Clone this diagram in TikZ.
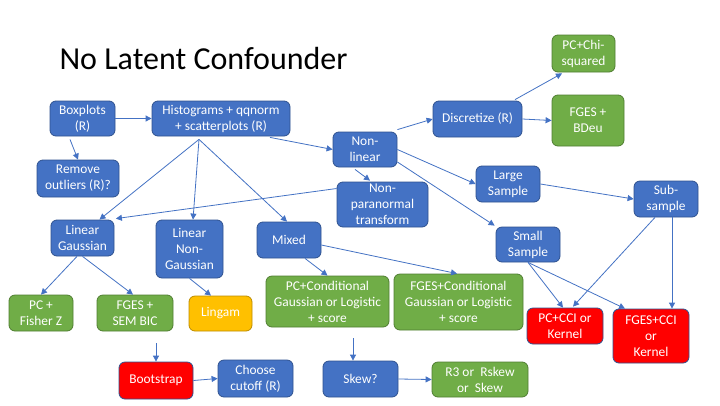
\documentclass[tikz,border=0pt]{standalone}
\usepackage{fontspec}
\setmainfont{Carlito}
\usetikzlibrary{arrows.meta,calc}
\definecolor{boxblue}{RGB}{68,114,196}
\definecolor{edgeblue}{RGB}{47,82,143}
\definecolor{boxgreen}{RGB}{112,173,71}
\definecolor{edgegreen}{RGB}{80,126,50}
\definecolor{boxyellow}{RGB}{255,192,0}
\definecolor{edgeyellow}{RGB}{188,140,0}
\definecolor{boxred}{RGB}{255,0,0}

\begin{document}
\begin{tikzpicture}[x=1pt, y=-1pt,
  bluebox/.style={draw=edgeblue, fill=boxblue, text=white, rounded corners=6pt,
    line width=0.8pt, align=center, inner sep=2pt,
    font=\fontsize{13.4}{16}\selectfont},
  greenbox/.style={bluebox, draw=edgegreen, fill=boxgreen},
  yellowbox/.style={bluebox, draw=edgeyellow, fill=boxyellow},
  redbox/.style={bluebox, fill=boxred},
  arrow/.style={-{Triangle[length=6pt,width=6pt]}, line width=0.8pt, draw=boxblue}
]
\useasboundingbox[fill=white] (0,0) rectangle (720,405);

\node[anchor=base west, font=\fontsize{32}{36}\selectfont] (title) at (56,69) {No Latent Confounder};

% first row
\node[bluebox, minimum width=65, minimum height=35] (box) at (82.5,118.5) {Boxplots\\(R)};
\node[bluebox, minimum width=138, minimum height=35] (hist) at (221,118.5) {Histograms + qqnorm\\+ scatterplots (R)};
\node[bluebox, minimum width=82, minimum height=37] (outl) at (78,178.5) {Remove\\outliers (R)?};
\draw[arrow] (box.east) -- (hist.west);
\draw[arrow] ([xshift=-12.5pt,yshift=-3pt]box.south) -- (outl.north);

% data types
\node[bluebox, minimum width=63, minimum height=36] (lingauss) at (82.5,238) {Linear\\Gaussian};
\node[bluebox, minimum width=67, minimum height=58] (linng) at (189.5,249) {Linear\\Non-\\Gaussian};
\node[bluebox, minimum width=64, minimum height=36] (mixed) at (289,240) {Mixed};
\node[bluebox, minimum width=64, minimum height=35] (nonlin) at (365,149.5) {Non-\\linear};
\node[bluebox, minimum width=91, minimum height=45] (npn) at (382.5,204.5) {Non-\\paranormal\\transform};

\coordinate (hfan) at ([xshift=-22pt,yshift=-3pt]hist.south);
\draw[arrow] (hfan) -- ([xshift=17pt]lingauss.north);
\draw[arrow] (hfan) -- ([xshift=3.5pt]linng.north);
\draw[arrow] (hfan) -- ([xshift=-2pt]mixed.north);
\draw[arrow] ([xshift=49pt,yshift=-1pt]hist.south) -- (nonlin.west);
\draw[arrow] ([xshift=-10pt,yshift=-2pt]nonlin.south) -- ([xshift=-12.5pt,yshift=1pt]npn.north);
\draw[arrow] ([yshift=16pt]npn.west) -- ([xshift=1.5pt,yshift=1pt]lingauss.north east);

% non-linear branch
\node[bluebox, minimum width=89, minimum height=36] (discr) at (477.5,119) {Discretize (R)};
\node[greenbox, minimum width=63, minimum height=37] (pcchi) at (583.5,53.5) {PC+Chi-\\squared};
\node[greenbox, minimum width=72, minimum height=51] (fgesbdeu) at (588,120.5) {FGES +\\BDeu};
\node[bluebox, minimum width=64, minimum height=36] (large) at (508,184) {Large\\Sample};
\node[bluebox, minimum width=64, minimum height=36] (sub) at (666,199) {Sub-\\sample};
\node[bluebox, minimum width=64, minimum height=35] (small) at (528,244.5) {Small\\Sample};
\node[redbox, minimum width=76, minimum height=36] (pccci) at (565,326) {PC+CCI or\\Kernel};
\node[redbox, minimum width=76, minimum height=54] (fgescci) at (651,336) {FGES+CCI\\or\\Kernel};

\draw[arrow] ([yshift=2pt]nonlin.north east) -- (discr.west);
\draw[arrow] ([xshift=37.5pt,yshift=1pt]discr.north) -- ([xshift=-21.5pt,yshift=-1pt]pcchi.south);
\draw[arrow] (discr.east) -- (fgesbdeu.west);
\draw[arrow] (nonlin.east) -- (large.west);
\draw[arrow] ([yshift=-12.5pt]nonlin.east) -- ([xshift=-1pt,yshift=1pt]small.north west);
\draw[arrow] (large.east) -- (sub.west);
\draw[arrow] ([xshift=-11pt]sub.south) -- ([xshift=8pt,yshift=1pt]pccci.north);
\draw[arrow] ([xshift=6pt]sub.south) -- ([xshift=21pt]fgescci.north);
\draw[arrow] (small.south) -- ([xshift=-2pt]pccci.north);
\draw[arrow] (small.south) -- ([xshift=-26pt]fgescci.north);

% mixed branch
\node[greenbox, minimum width=123, minimum height=51] (pccond) at (327.5,301.5) {PC+Conditional\\Gaussian or Logistic\\+ score};
\node[greenbox, minimum width=129, minimum height=56] (fgescond) at (458.5,302) {FGES+Conditional\\Gaussian or Logistic\\+ score};
\node[bluebox, minimum width=75, minimum height=36] (skew) at (360.5,379) {Skew?};
\node[greenbox, minimum width=96, minimum height=35] (rthree) at (480,379.5) {R3 or~~Rskew\\or~~Skew};
\coordinate (skewin) at (353,338);

\draw[arrow] ([xshift=16pt]mixed.south) -- (pccond.north);
\draw[arrow] ([yshift=-5pt]mixed.east) -- ([xshift=-1.5pt]fgescond.north);
\draw[arrow] (skewin) -- ([xshift=-7.5pt]skew.north);
\draw[arrow] (skew.east) -- (rthree.west);

% linear branch
\node[greenbox, minimum width=64, minimum height=36] (pcfz) at (41,313) {PC +\\Fisher Z};
\node[greenbox, minimum width=76, minimum height=36] (fgessem) at (135,313) {FGES +\\SEM BIC};
\node[yellowbox, minimum width=63, minimum height=35] (lingam) at (220.5,313.5) {Lingam};
\node[redbox, minimum width=74, minimum height=37] (boot) at (156,380.5) {Bootstrap};
\node[bluebox, minimum width=75, minimum height=37] (choose) at (255.5,378.5) {Choose\\cutoff (R)};
\coordinate (bootin) at (156,343);

\draw[arrow] ([xshift=-5.5pt]lingauss.south) -- (pcfz.north);
\draw[arrow] (lingauss.south) -- ([xshift=-2pt]fgessem.north);
\draw[arrow] (linng.south) -- ([xshift=-9.5pt]lingam.north);
\draw[arrow] (bootin) -- (boot.north);
\draw[arrow] (boot.east) -- (choose.west);
\end{tikzpicture}
\end{document}
